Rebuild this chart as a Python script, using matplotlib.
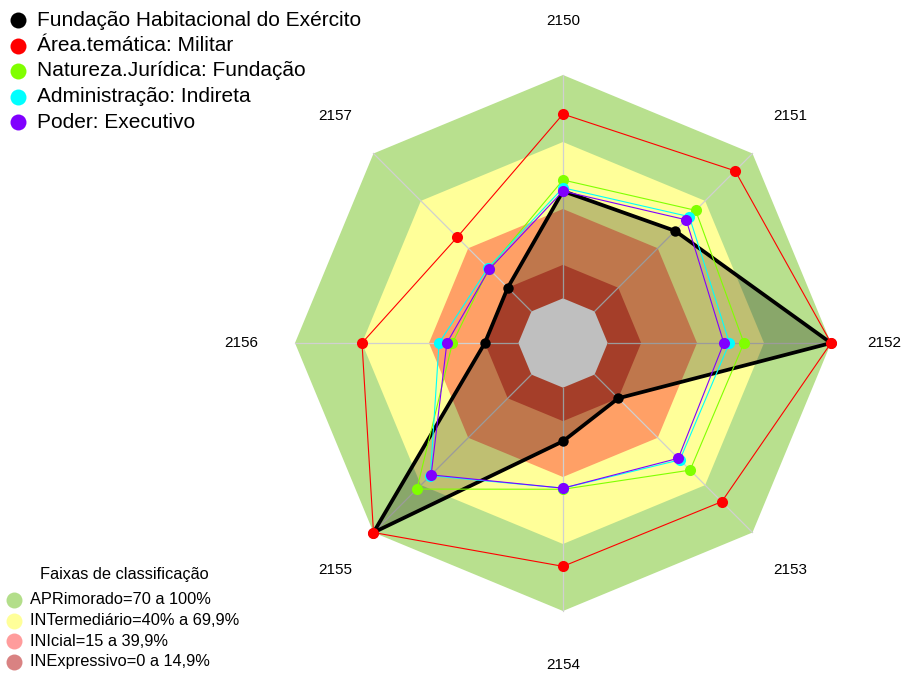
import numpy as np
import matplotlib
matplotlib.use("Agg")
import matplotlib.pyplot as plt

plt.rcParams['font.family'] = ['Liberation Sans', 'DejaVu Sans']

# ---------------- data ----------------
axes_labels = ["2150", "2151", "2152", "2153", "2154", "2155", "2156", "2157"]

series_names = ["Fundação Habitacional do Exército",
                "Área.temática: Militar",
                "Natureza.Jurídica: Fundação",
                "Administração: Indireta",
                "Poder: Executivo"]
series_colors = ["#000000", "#FF0000", "#80FF00", "#00FFFF", "#8000FF"]

fundacao = [48, 51, 100, 15, 24, 100, 15, 15]
militar = [82.5, 89, 100, 80.5, 80, 100, 70, 47]
natureza = [53, 64, 61, 60.5, 45.5, 72.5, 29.5, 27]
indireta = [49.5, 60, 54.5, 54, 45, 64, 35.5, 27.5]
executivo = [48, 58, 52, 53, 45, 63.5, 32, 26.7]
series_values = [fundacao, militar, natureza, indireta, executivo]

band_names = ["APRimorado=70 a 100%", "INTermediário=40% a 69,9%",
              "INIcial=15 a 39,9%", "INExpressivo=0 a 14,9%"]
band_upper = [100, 70, 40, 15]
band_fill = ["#B8E08E", "#FFFF99", "#FFA066", "#DD5438"]
band_legend_colors = ["#B3DE8A", "#FFFF99", "#FF9C9C", "#D98282"]
center_color = "#FFFFFF"

# ---------------- geometry helpers ----------------
n = len(axes_labels)
theta = np.deg2rad(90 - 45 * np.arange(n))


def rad(v):
    v = np.asarray(v, dtype=float)
    return 1 / 6 + 5 / 6 * v / 100.0


def poly_xy(r):
    r = np.broadcast_to(np.asarray(r, dtype=float), (n,))
    x = r * np.cos(theta)
    y = r * np.sin(theta)
    return np.append(x, x[0]), np.append(y, y[0])


W, H = 905, 675
cx, cy, R = 563, 343, 268
fig = plt.figure(figsize=(W / 100, H / 100), dpi=100)
ax = fig.add_axes([0, 0, 1, 1])
ax.set_xlim(-cx / R, (W - cx) / R)
ax.set_ylim(-(H - cy) / R, cy / R)
ax.set_aspect('equal')
ax.axis('off')

# bands
for up, col in zip(band_upper, band_fill):
    x, y = poly_xy(rad(up))
    ax.fill(x, y, color=col, lw=0, zorder=1)
x, y = poly_xy(rad(0))
ax.fill(x, y, color=center_color, lw=0, zorder=1)

# radial axes
for t in theta:
    ax.plot([np.cos(t) / 6, np.cos(t)], [np.sin(t) / 6, np.sin(t)],
            color="#D0D0D0", lw=0.9, zorder=2)

# axis labels
for t, lab in zip(theta, axes_labels):
    ax.text(1.2 * np.cos(t), 1.2 * np.sin(t), lab, ha='center', va='center',
            fontsize=11, color='black')

# series
for i, (vals, col) in enumerate(zip(series_values, series_colors)):
    x, y = poly_xy(rad(vals))
    if i == 0:
        ax.fill(x, y, color='black', alpha=0.25, lw=0, zorder=3)
        ax.plot(x, y, color=col, lw=2.7, zorder=4)
        ax.plot(x[:-1], y[:-1], 'o', color=col, ms=7.5, mec='none', zorder=4)
    else:
        ax.plot(x, y, color=col, lw=0.8, zorder=5 + i)
        ax.plot(x[:-1], y[:-1], 'o', color=col, ms=8, mec='none', zorder=5 + i)

# ---------------- legends (pixel overlay) ----------------
ov = fig.add_axes([0, 0, 1, 1])
ov.set_xlim(0, W)
ov.set_ylim(H, 0)
ov.axis('off')
ov.patch.set_alpha(0)

top_y0, top_dy = 20, 25.5
for k, (name, col) in enumerate(zip(series_names, series_colors)):
    yy = top_y0 + k * top_dy
    ov.plot([18], [yy], 'o', color=col, ms=11.5, mec='none')
    ov.text(37, yy, name, ha='left', va='center', fontsize=15, color='black')

ov.text(124, 574, "Faixas de classificação", ha='center', va='center',
        fontsize=11.8, color='black')
for k, (name, col) in enumerate(zip(band_names, band_legend_colors)):
    yy = 600 + k * 20.5
    ov.plot([14], [yy], 'o', color=col, ms=11.5, mec='none')
    ov.text(30, yy, name, ha='left', va='center', fontsize=11.8, color='black')

fig.savefig("out.png", dpi=100)
